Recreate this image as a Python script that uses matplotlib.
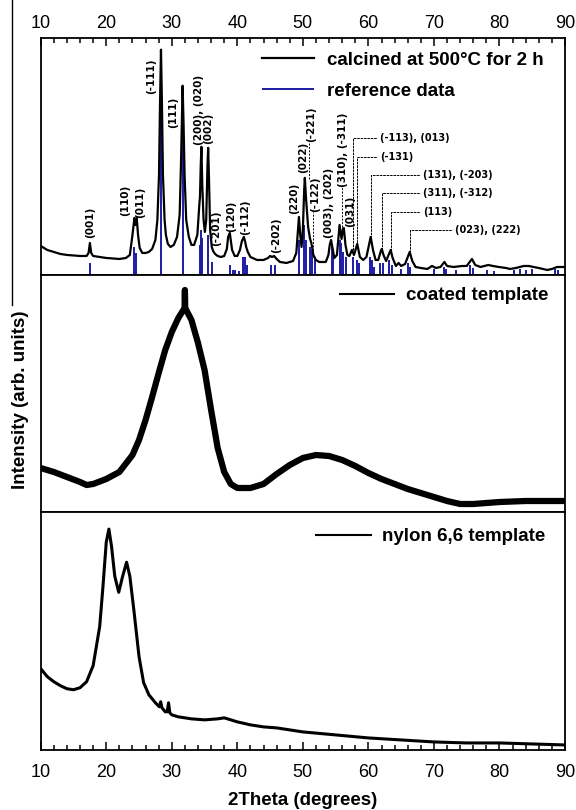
import numpy as np
import matplotlib
matplotlib.use('Agg')
import matplotlib.pyplot as plt
from matplotlib.lines import Line2D
from matplotlib.ticker import MultipleLocator

plt.rcParams['font.family'] = ['Liberation Sans', 'DejaVu Sans']

# ---- calcined at 500 C (2theta, intensity) ----
calc_tt = [10.0, 11.0, 12.0, 13.0, 14.0, 15.0, 16.0, 17.0, 17.3, 17.5, 17.7, 18.0, 19.0, 20.0,
           21.0, 22.0, 23.0, 23.6, 24.0, 24.3, 24.47, 24.65, 24.85, 25.1, 25.5, 26.0, 26.5, 27.0,
           27.5, 27.8, 28.05, 28.2, 28.35, 28.5, 28.65, 28.9, 29.1, 29.4, 29.8, 30.3, 30.8, 31.2,
           31.4, 31.55, 31.65, 31.8, 31.95, 32.2, 32.6, 33.0, 33.4, 33.9, 34.2, 34.3, 34.42, 34.52,
           34.65, 34.85, 35.05, 35.25, 35.45, 35.55, 35.68, 35.85, 36.1, 36.3, 36.6, 37.0, 37.5,
           38.0, 38.4, 38.6, 38.85, 39.0, 39.2, 39.6, 40.0, 40.4, 40.7, 41.0, 41.2, 41.35, 41.6,
           42.0, 43.0, 44.0, 44.7, 45.0, 45.3, 45.6, 46.0, 46.5, 47.5, 48.5, 49.0, 49.25, 49.4,
           49.6, 49.8, 50.0, 50.2, 50.3, 50.5, 50.8, 51.1, 51.3, 51.6, 52.0, 52.5, 53.5, 53.9,
           54.1, 54.3, 54.5, 54.8, 55.2, 55.4, 55.6, 55.9, 56.1, 56.25, 56.5, 56.8, 57.1, 57.5,
           57.8, 58.3, 58.7, 59.2, 59.7, 60.1, 60.35, 60.7, 61.1, 61.5, 61.9, 62.05, 62.3, 62.7,
           63.2, 63.4, 63.7, 64.2, 64.6, 65.0, 65.6, 66.0, 66.3, 66.7, 67.2, 68.0, 69.0, 69.7,
           70.3, 71.0, 71.6, 72.0, 73.0, 74.3, 75.0, 75.8, 76.3, 77.1, 78.3, 79.0, 79.9, 81.0,
           81.6, 82.5, 83.7, 84.5, 85.2, 86.0, 87.3, 88.0, 88.8, 89.5, 90.0]
calc_int = [29, 25, 23, 21, 20, 19.5, 19, 19, 22, 32, 22, 19, 18, 17,
            16.5, 16, 17, 20, 40, 57, 50, 57, 40, 27, 22, 22, 23, 26,
            35, 55, 100, 170, 225, 170, 100, 55, 40, 31, 28, 30, 38, 60,
            110, 160, 189, 150, 100, 55, 38, 30, 30, 40, 70, 78, 110, 128,
            90, 55, 43, 55, 110, 127, 95, 45, 28, 24, 21, 19, 18,
            19, 26, 38, 42, 35, 25, 19, 19, 25, 34, 38, 33, 28, 23,
            18, 15, 15, 17, 19, 18, 19, 16, 13, 12, 14, 22, 45, 58,
            40, 28, 45, 85, 97, 75, 48, 36, 32, 20, 15, 13, 13, 20,
            30, 35, 28, 17, 20, 35, 50, 36, 45, 47, 30, 20, 19, 25,
            20, 31, 18, 15, 18, 30, 38, 25, 15, 15, 24, 26, 20, 14,
            22, 25, 17, 9, 12, 9, 11, 18, 23, 14, 8, 7, 6, 9,
            7, 8, 13, 9, 8, 9, 9, 16, 10, 8, 10, 9, 8, 7,
            6, 7, 9, 9, 8, 7, 5, 6, 8, 8, 8]

# ---- reference data sticks ----
ref_tt = [17.5, 24.25, 24.6, 28.35, 31.65, 34.35, 34.5, 34.65, 35.6, 36.1, 38.85, 39.3, 39.6,
          40.2, 40.85, 41.15, 41.5, 45.1, 45.7, 49.4, 50.2, 50.55, 51.1, 51.4, 51.9, 54.4,
          54.6, 55.6, 55.8, 56.2, 56.6, 57.6, 58.2, 58.5, 60.3, 60.5, 60.9, 61.8, 62.3, 63.2,
          63.6, 64.9, 66.1, 66.4, 70.0, 71.5, 71.8, 73.3, 75.5, 75.9, 78.1, 79.1, 82.2, 83.1,
          84.0, 85.0, 88.5, 89.0]
ref_int = [12, 28, 22, 215, 175, 30, 45, 37, 40, 13, 10, 5, 5,
           4, 18, 18, 10, 10, 10, 35, 50, 35, 28, 25, 18, 28,
           18, 35, 32, 23, 18, 18, 15, 12, 18, 15, 8, 12, 12, 15,
           10, 6, 12, 8, 6, 8, 6, 5, 10, 7, 5, 4, 5, 6,
           5, 6, 6, 5]

# ---- coated template ----
coat_tt = [10, 12, 14, 16, 17, 18, 20, 22, 24, 25, 26, 27, 28, 29, 30, 31, 31.95, 32.0, 32.05,
           33, 34, 35, 36, 37, 38, 39, 40, 42, 44, 46, 48, 50, 52, 54, 56, 58, 60, 62, 64,
           66, 68, 70, 72, 74, 76, 78, 80, 84, 88, 90]
coat_int = [44, 40, 35, 30, 27, 28, 33, 40, 57, 72, 92, 115, 139, 162, 180, 194, 204, 222, 204,
            192, 169, 142, 102, 64, 40, 28, 24, 24, 28, 38, 47, 54, 57, 56, 52, 46, 39, 33, 28,
            23, 19, 15, 11, 8, 8, 9, 10, 11, 11, 11]

# ---- nylon 6,6 template ----
nyl_tt = [10, 11, 12, 13, 14, 15, 16, 17, 18, 19, 19.5, 20.0, 20.4, 20.8, 21.3, 21.9, 22.5, 23.1,
          23.6, 24.2, 25.0, 25.7, 26.5, 27.5, 28.1, 28.3, 28.5, 29.0, 29.3, 29.5, 29.7, 30, 31,
          33, 35, 37, 38, 40, 42, 44, 46, 48, 50, 55, 60, 65, 70, 75, 80, 85, 90]
nyl_int = [81, 73, 68, 64, 61, 60, 62, 68, 84, 123, 163, 207, 220, 203, 173, 157, 173, 187,
           173, 140, 93, 67, 55, 47, 43, 48, 42, 38, 38, 47, 37, 35, 33,
           31, 30, 31, 32, 28, 25, 23, 22, 20, 18, 15, 12, 10, 8, 7, 7, 6, 5]

# ---- peak labels ----
vlab_text = ['(001)', '(110)', '(011)', '(-111)', '(111)', '(200), (020)', '(002)', '(-201)',
             '(120)', '(-112)', '(-202)', '(220)', '(022)', '(-221)', '(-122)', '(003), (202)',
             '(310), (-311)', '(031)']
vlab_x = [17.6, 22.85, 25.15, 26.9, 30.2, 34.15, 35.55, 36.75, 39.0, 41.2, 45.95, 48.65, 50.1,
          51.3, 51.9, 54.05, 56.1, 57.2]
vlab_y = [37, 59, 57, 181, 147, 130, 131, 29, 43, 40, 22, 61, 102, 133, 63, 37, 88, 48]

# dashed connectors from label to peak
conn_x = [50.95, 51.6, 55.95]
conn_top = [133, 63, 90]
conn_bot = [96, 18, 48]

# labels with elbow leader lines
lead_text = ['(-113), (013)', '(-131)', '(131), (-203)', '(311), (-312)', '(113)', '(023), (222)']
lead_peak_x = [57.6, 58.3, 60.4, 62.05, 63.4, 66.3]
lead_peak_y = [25, 31, 38, 26, 25, 23]
lead_text_x = [61.8, 61.8, 68.4, 68.4, 68.4, 73.25]
lead_text_y = [137, 118, 100, 82, 63, 45]

blue = '#1c1ca6'

fig = plt.figure(figsize=(5.76, 8.10), dpi=100)
left, width = 0.0707, 0.9102
ax_top = fig.add_axes([left, 0.6605, width, 0.2930])
ax_mid = fig.add_axes([left, 0.3679, width, 0.2926])
ax_bot = fig.add_axes([left, 0.0741, width, 0.2938])

for ax in (ax_top, ax_mid, ax_bot):
    ax.set_xlim(10, 90)
    ax.set_ylim(0, 237)
    ax.set_yticks([])
    for sp in ax.spines.values():
        sp.set_linewidth(1.3)
    ax.xaxis.set_major_locator(MultipleLocator(10))
    ax.xaxis.set_minor_locator(MultipleLocator(2))

# top panel
ax_top.vlines(ref_tt, 0, ref_int, color=blue, lw=1.4, label='reference data', zorder=2)
ax_top.plot(calc_tt, calc_int, color='k', lw=1.6, label='calcined at 500°C for 2 h', zorder=3)
ax_top.xaxis.tick_top()
ax_top.tick_params(axis='x', which='both', direction='in', top=True, bottom=False,
                   labeltop=True, labelbottom=False, labelsize=13, width=1.1, pad=4)
ax_top.tick_params(axis='x', which='major', length=6)
ax_top.tick_params(axis='x', which='minor', length=3.5)

for t, x, y in zip(vlab_text, vlab_x, vlab_y):
    ax_top.text(x, y, t, rotation=90, ha='center', va='bottom', fontsize=7.5,
                family='DejaVu Sans', weight='bold', zorder=4)
ax_top.vlines(conn_x, conn_bot, conn_top, colors='k', lw=0.7, linestyles=(0, (2, 1.5)))
for t, px, py, tx, ty in zip(lead_text, lead_peak_x, lead_peak_y, lead_text_x, lead_text_y):
    ax_top.annotate(t, xy=(px, py), xytext=(tx, ty), ha='left', va='center', fontsize=7,
                    family='DejaVu Sans', weight='bold',
                    arrowprops=dict(arrowstyle='-', lw=0.7, ls=(0, (2, 1.5)), color='k',
                                    shrinkA=1, shrinkB=0,
                                    connectionstyle='angle,angleA=0,angleB=90,rad=0'))

h, l = ax_top.get_legend_handles_labels()
ax_top.legend(h[::-1], l[::-1], loc='upper left', bbox_to_anchor=(0.422, 0.94), frameon=False,
              prop={'weight': 'bold', 'size': 13.5}, handlelength=2.8, handletextpad=0.65,
              labelspacing=0.72, borderpad=0, borderaxespad=0)

# middle panel
ax_mid.plot(coat_tt, coat_int, color='k', lw=4.5, label='coated template',
            solid_joinstyle='round')
ax_mid.tick_params(axis='x', which='both', bottom=False, top=False, labelbottom=False)
ax_mid.legend(loc='upper left', bbox_to_anchor=(0.571, 0.95), frameon=False,
              prop={'weight': 'bold', 'size': 13.5}, handlelength=2.9, handletextpad=0.6,
              borderpad=0, borderaxespad=0, handleheight=0.5)
for lh in ax_mid.get_legend().get_lines():
    lh.set_linewidth(1.5)

# bottom panel
ax_bot.plot(nyl_tt, nyl_int, color='k', lw=2.2, label='nylon 6,6 template')
ax_bot.tick_params(axis='x', which='both', direction='in', top=False, bottom=True,
                   labelsize=13, width=1.1, pad=10)
ax_bot.tick_params(axis='x', which='major', length=6)
ax_bot.tick_params(axis='x', which='minor', length=3.5)
ax_bot.legend(loc='upper left', bbox_to_anchor=(0.526, 0.933), frameon=False,
              prop={'weight': 'bold', 'size': 13.5}, handlelength=2.9, handletextpad=0.6,
              borderpad=0, borderaxespad=0)
for lh in ax_bot.get_legend().get_lines():
    lh.set_linewidth(1.5)
ax_bot.set_xlabel('2Theta (degrees)', fontsize=13.5, weight='bold', labelpad=8)

fig.text(0.035, 1 - 400 / 810, 'Intensity (arb. units)', rotation=90, ha='center', va='center',
         fontsize=13.5, weight='bold')
fig.add_artist(Line2D([12 / 576, 12 / 576], [1.0, 1 - 305 / 810], color='k', lw=1.0))

fig.savefig('out.png', dpi=100)
